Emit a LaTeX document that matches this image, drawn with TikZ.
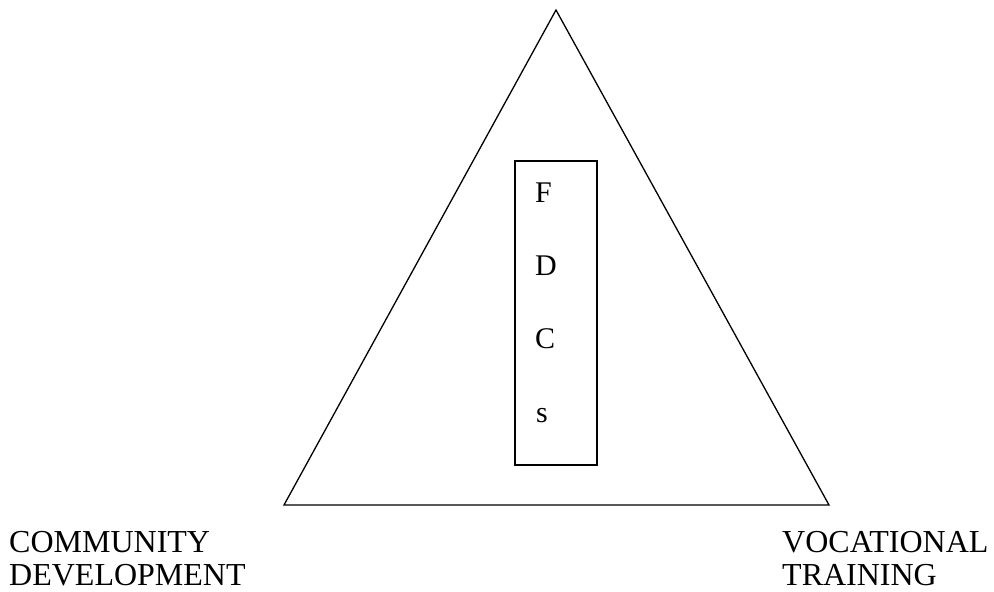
\documentclass[tikz,border=0pt]{standalone}
\usepackage{fontspec}
\setmainfont{Liberation Serif}
\begin{document}
\begin{tikzpicture}[x=1pt,y=-1pt,
  lbl/.style={inner sep=0pt,anchor=base west,font=\fontsize{32}{32}\selectfont},
  ltr/.style={inner sep=0pt,anchor=base west,font=\fontsize{30}{30}\selectfont},
  thin line/.style={line width=1.3pt,line join=miter}]
\useasboundingbox (0,0) rectangle (994,592);
\coordinate (apex) at (556,10);
\coordinate (bl) at (284,505);
\coordinate (br) at (829,505);
\draw[thin line] (apex) -- (bl) -- (br) -- cycle;
\node[draw,line width=1.3pt,minimum width=82pt,minimum height=304pt,inner sep=0pt] (box) at (556,313) {};
\node[ltr] (f) at (535,202) {F};
\node[ltr] (d) at (535,275) {D};
\node[ltr] (c) at (535,348) {C};
\node[ltr] (s) at (536,422) {s};
\node[lbl] (cm) at (9,552) {COMMUNITY};
\node[lbl] (dv) at (9,585) {DEVELOPMENT};
\node[lbl] (vc) at (782,552) {VOCATIONAL};
\node[lbl] (tr) at (782,585) {TRAINING};
\end{tikzpicture}
\end{document}
